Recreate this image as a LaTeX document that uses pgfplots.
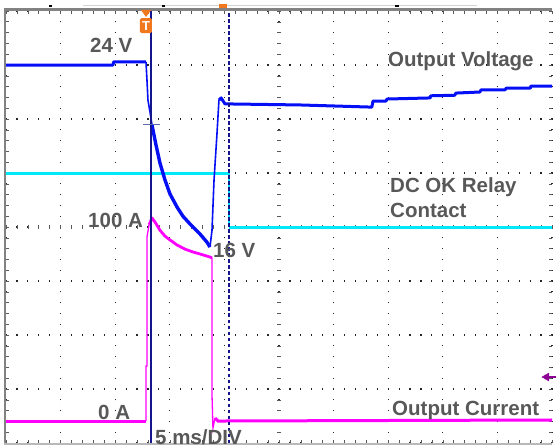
\documentclass[border=0pt]{standalone}
\usepackage{fontspec}
\setmainfont{Liberation Sans}
\usepackage{pgfplots}
\pgfplotsset{compat=1.18}
\definecolor{trblue}{RGB}{5,15,245}
\definecolor{trcyan}{RGB}{0,232,250}
\definecolor{trmag}{RGB}{255,0,255}
\definecolor{labgray}{RGB}{88,88,88}
\definecolor{curnavy}{RGB}{20,20,140}
\definecolor{curslate}{RGB}{90,105,170}
\definecolor{trigor}{RGB}{240,120,30}
\definecolor{gndpurple}{RGB}{140,0,150}
\definecolor{bordgray}{RGB}{130,130,130}
\tikzset{lab/.style={text=labgray, font=\bfseries\fontsize{20.5}{23}\selectfont, inner sep=0pt, anchor=base west}}
\begin{document}
\begin{tikzpicture}[x=1pt,y=1pt]
\begin{axis}[
  at={(6pt,4pt)}, anchor=south west,
  scale only axis, width=546pt, height=432pt,
  xmin=0, xmax=10, ymin=0, ymax=8,
  xtick={0,...,10}, ytick={0,...,8},
  minor x tick num=4, minor y tick num=4,
  xticklabels={}, yticklabels={},
  tick align=inside, major tick length=3pt, minor tick length=3pt,
  tick style={gray!70!black, line width=0.6pt},
  grid=major,
  major x grid style={black!85, line width=1.2pt, dash pattern=on 1.2pt off 9.6pt, dash phase=0.6pt},
  major y grid style={black!85, line width=1.2pt, dash pattern=on 1.2pt off 9.72pt, dash phase=0.6pt},
  axis line style={draw=none},
  clip=false,
]
% center cross ticks
\pgfplotsinvokeforeach{0,0.2,...,10}{\draw[gray!70!black, line width=0.6pt] (axis cs:#1,4) ++(0,-2pt) -- ++(0,4pt);}
\pgfplotsinvokeforeach{0,0.2,...,8}{\draw[gray!70!black, line width=0.6pt] (axis cs:5,#1) ++(-2pt,0) -- ++(4pt,0);}

% DC OK relay contact
\addplot[trcyan, line width=3pt] coordinates {(0,5) (4.084,5)};
\addplot[trcyan, line width=1.2pt] coordinates {(4.084,5) (4.084,4)};
\addplot[trcyan, line width=3pt] coordinates {(4.084,4) (10,4)};
% Output current
\addplot[trmag, line width=3pt] coordinates {(0,0.407) (2.564,0.407)};
\addplot[trmag, line width=1.3pt] coordinates {(2.564,0.407) (2.564,1.426) (2.582,1.426) (2.582,3.815) (2.62,4.04)};
\addplot[trmag, line width=2.8pt, line join=round] coordinates {
(2.62,4.04) (2.674,4.167)
(2.73,4.09) (2.82,3.94) (2.912,3.83) (3.004,3.76) (3.132,3.667) (3.278,3.59) (3.425,3.537)
(3.553,3.5) (3.736,3.444) (3.773,3.426)};
\addplot[trmag, line width=1.3pt] coordinates {(3.773,3.426) (3.773,0.889) (3.79,0.278) (3.828,0.463)};
\addplot[trmag, line width=3pt] coordinates {(3.828,0.463) (3.883,0.407) (10,0.426)};
% Output voltage
\addplot[trblue, line width=3pt, line join=round] coordinates {
(0,7.0) (1.96,7.0) (1.97,7.056) (2.564,7.056)};
\addplot[trblue, line width=1.6pt, line join=round] coordinates {
(2.564,7.056) (2.582,6.72) (2.60,6.35) (2.637,6.13) (2.674,5.89)};
\addplot[trblue, line width=3.4pt, line join=round] coordinates {
(2.674,5.89) (2.747,5.52) (2.82,5.185) (2.912,4.87) (3.004,4.61) (3.132,4.37) (3.24,4.20) (3.37,4.056)
(3.553,3.87) (3.68,3.72) (3.736,3.63)};
\addplot[trblue, line width=1.6pt, line join=round] coordinates {
(3.736,3.63) (3.773,3.94) (3.81,4.87) (3.865,5.74) (3.90,6.35)};
\addplot[trblue, line width=3pt, line join=round] coordinates {
(3.90,6.35) (3.94,6.39) (4.01,6.28) (5.385,6.26) (6.70,6.22) (6.722,6.333) (6.96,6.333) (6.978,6.37)
(7.766,6.39) (7.78,6.43) (8.22,6.44) (8.24,6.48) (8.68,6.5) (8.70,6.54) (9.14,6.54)
(9.16,6.57) (9.6,6.57) (9.615,6.61) (10,6.61)};

% cursors
\draw[curnavy, line width=1.1pt] (axis cs:2.656,0) -- (axis cs:2.656,8);
\draw[curnavy, line width=1.1pt, dash pattern=on 3.5pt off 2.5pt] (axis cs:4.084,0) -- (axis cs:4.084,8);
\draw[curslate, line width=1pt] (axis cs:2.509,5.89) -- (axis cs:2.82,5.89);

% frame
\draw[bordgray, line width=2.6pt] (rel axis cs:0,0) ++(-1pt,-1pt) -- ([yshift=2.5pt,xshift=-1pt]rel axis cs:0,1);
\draw[bordgray, line width=2.4pt] ([yshift=1.3pt,xshift=-2pt]rel axis cs:0,1) -- ([yshift=1.3pt]rel axis cs:1,1);
\draw[gray!55, line width=2pt] ([yshift=-1pt,xshift=-2pt]rel axis cs:0,0) -- ([yshift=-1pt]rel axis cs:1,0);

% top status bar
\draw[gray!35, line width=1pt] (axis cs:1.41,8.093) -- (axis cs:8.626,8.093);
\fill[black] (axis cs:0.78,8.11) rectangle (axis cs:0.84,8.075);
\fill[black] (axis cs:2.85,8.11) rectangle (axis cs:2.91,8.075);
\fill[black] (axis cs:7.13,8.11) rectangle (axis cs:7.19,8.075);
\fill[trigor] (axis cs:3.90,8.13) rectangle (axis cs:4.048,8.06);

% trigger marker
\fill[trigor] (axis cs:2.47,8.02) -- (axis cs:2.66,8.02) -- (axis cs:2.565,7.89) -- cycle;
\node[fill=trigor, rounded corners=1.5pt, minimum width=12pt, minimum height=15pt, text=white,
  font=\bfseries\fontsize{13}{13}\selectfont, inner sep=0pt] at (axis cs:2.564,7.73) {T};

% ground marker
\addplot[gndpurple, line width=1.5pt, mark=triangle*, mark size=4.5pt, mark options={rotate=90, line width=0.5pt}, mark indices={1}]
  coordinates {(9.9,1.222) (10.07,1.222)};

% labels
\node[lab] at (axis cs:1.538,7.24) {24 V};
\node[lab] at (axis cs:1.502,4.0) {100 A};
\node[lab] at (axis cs:3.791,3.444) {16 V};
\node[lab] at (axis cs:1.685,0.444) {0 A};
\node[lab] at (axis cs:2.729,-0.0185) {5 ms/DIV};
\node[lab] at (axis cs:6.996,6.963) {Output Voltage};
\node[lab] at (axis cs:7.033,4.648) {DC OK Relay};
\node[lab] at (axis cs:7.033,4.185) {Contact};
\node[lab] at (axis cs:7.07,0.5185) {Output Current};
\end{axis}
\pgfresetboundingbox
\path (0,0) rectangle (556,447);
\end{tikzpicture}
\end{document}
